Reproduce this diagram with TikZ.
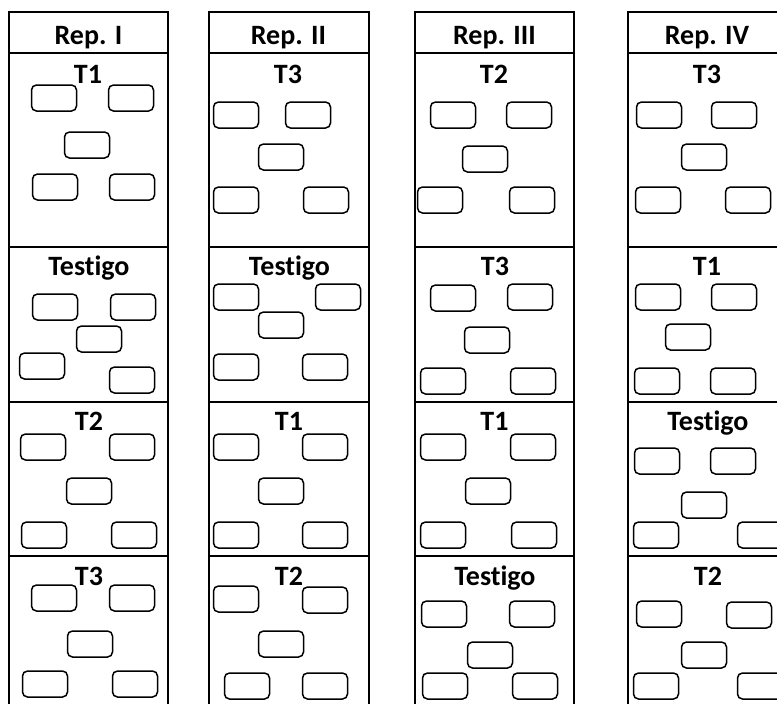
\documentclass[tikz,border=0pt]{standalone}
\usepackage{fontspec}
\setmainfont{Carlito}[Ligatures=NoCommon]
\tikzset{
  plotbox/.style={draw=black, line width=1.5pt, rounded corners=5pt, minimum width=45pt, minimum height=26pt, inner sep=0pt, fill=white},
  lbl/.style={anchor=base, inner sep=0pt, font=\bfseries\fontsize{28}{30}\selectfont},
  frame/.style={draw=black, line width=2pt}
}
\begin{document}
\begin{tikzpicture}[x=1pt,y=-1pt]
\useasboundingbox (0,0) rectangle (777,704);
\clip (0,0) rectangle (777,704);
\fill[white] (0,0) rectangle (777,704);
% column frames
\foreach \l/\r in {9/168, 208.5/368.5, 415/574, 628/800}{
  \draw[frame] (\l,720) -- (\l,12) -- (\r,12) -- (\r,720);
  \foreach \yy in {53,247,402,556}{ \draw[frame] (\l,\yy) -- (\r,\yy); }
}
% headers
\node[lbl] (h1) at (88.5,45) {Rep. I};
\node[lbl] (h2) at (288.5,45) {Rep. II};
\node[lbl] (h3) at (494.5,45) {Rep. III};
\node[lbl] (h4) at (707,45) {Rep. IV};
% column I
\foreach \n/\x/\y in {a/54/98,b/131/98,c/87/145,d/55/187,e/132/187}{\node[plotbox] (c1r1\n) at (\x,\y) {};}
\foreach \n/\x/\y in {a/55/307,b/133/307,c/99/339,d/42/366,e/132/380}{\node[plotbox] (c1r2\n) at (\x,\y) {};}
\foreach \n/\x/\y in {a/43/447,b/132/447,c/89/491,d/44/535,e/134/535}{\node[plotbox] (c1r3\n) at (\x,\y) {};}
\foreach \n/\x/\y in {a/54/598,b/132/598,c/90/644,d/45/684,e/135/684}{\node[plotbox] (c1r4\n) at (\x,\y) {};}
% column II
\foreach \n/\x/\y in {a/236/115,b/308/115,c/281/157,d/236/200,e/326/200}{\node[plotbox] (c2r1\n) at (\x,\y) {};}
\foreach \n/\x/\y in {a/236/297,b/338/297,c/281/325,d/236/367,e/325/367}{\node[plotbox] (c2r2\n) at (\x,\y) {};}
\foreach \n/\x/\y in {a/236/447,b/325/447,c/281/491,d/236/535,e/325/535}{\node[plotbox] (c2r3\n) at (\x,\y) {};}
\foreach \n/\x/\y in {a/236/599,b/325/600,c/281/644,d/247/686,e/325/686}{\node[plotbox] (c2r4\n) at (\x,\y) {};}
% column III
\foreach \n/\x/\y in {a/453/115,b/529/115,c/485/159,d/440/200,e/532/200}{\node[plotbox] (c3r1\n) at (\x,\y) {};}
\foreach \n/\x/\y in {a/453/298,b/530/297,c/487/340,d/443/381,e/533/381}{\node[plotbox] (c3r2\n) at (\x,\y) {};}
\foreach \n/\x/\y in {a/443/447,b/533/447,c/488/491,d/443/535,e/534/535}{\node[plotbox] (c3r3\n) at (\x,\y) {};}
\foreach \n/\x/\y in {a/444/614,b/532/614,c/490/655,d/445/686,e/535/686}{\node[plotbox] (c3r4\n) at (\x,\y) {};}
% column IV
\foreach \n/\x/\y in {a/659/115,b/734/115,c/704/157,d/658/200,e/748/200}{\node[plotbox] (c4r1\n) at (\x,\y) {};}
\foreach \n/\x/\y in {a/658/297,b/734/297,c/688/337,d/657/381,e/733/381}{\node[plotbox] (c4r2\n) at (\x,\y) {};}
\foreach \n/\x/\y in {a/657/461,b/733/461,c/704/505,d/656/535,e/760/535}{\node[plotbox] (c4r3\n) at (\x,\y) {};}
\foreach \n/\x/\y in {a/659/614,b/749/615,c/704/655,d/656/686,e/760/686}{\node[plotbox] (c4r4\n) at (\x,\y) {};}
% treatment labels
\node[lbl] (t11) at (88,83) {T1};
\node[lbl] (t12) at (89,275) {Testigo};
\node[lbl] (t13) at (89,430) {T2};
\node[lbl] (t14) at (89,585) {T3};
\node[lbl] (t21) at (288,83) {T3};
\node[lbl] (t22) at (289.5,275) {Testigo};
\node[lbl] (t23) at (289,430) {T1};
\node[lbl] (t24) at (289,585) {T2};
\node[lbl] (t31) at (494,83) {T2};
\node[lbl] (t32) at (495,275) {T3};
\node[lbl] (t33) at (494.5,430) {T1};
\node[lbl] (t34) at (495,585) {Testigo};
\node[lbl] (t41) at (707,83) {T3};
\node[lbl] (t42) at (707,275) {T1};
\node[lbl] (t43) at (708,430) {Testigo};
\node[lbl] (t44) at (708,585) {T2};
\end{tikzpicture}
\end{document}
